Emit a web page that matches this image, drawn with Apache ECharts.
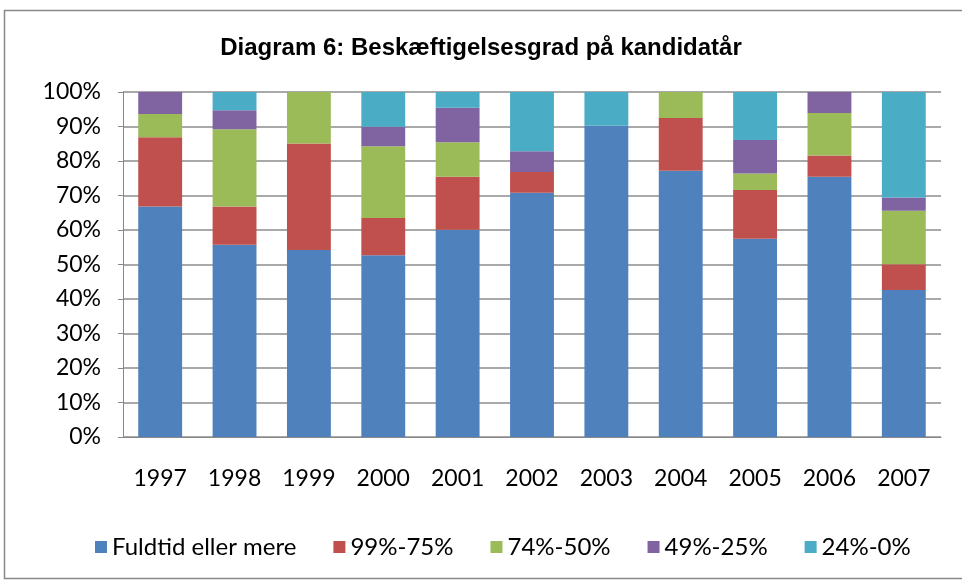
<!DOCTYPE html>
<html>
<head>
<meta charset="utf-8">
<script src="https://cdn.jsdelivr.net/npm/echarts@6/dist/echarts.min.js"></script>
<style>
  html, body { margin: 0; padding: 0; background: #fff; }
  #chart { width: 962px; height: 580px; }
</style>
</head>
<body>
<div id="chart"></div>
<script>
const years = ['1997', '1998', '1999', '2000', '2001', '2002', '2003', '2004', '2005', '2006', '2007']
const seriesNames = ['Fuldtid eller mere', '99%-75%', '74%-50%', '49%-25%', '24%-0%']
// andele i procent
const fuldtid = [66.8, 55.7, 54.2, 52.7, 60.1, 70.8, 90.2, 77.2, 57.5, 75.4, 42.6]
const pct99to75 = [20.1, 11.1, 30.9, 10.8, 15.3, 6.0, 0, 15.3, 14.1, 6.2, 7.5]
const pct74to50 = [6.7, 22.4, 14.9, 20.8, 10.0, 0, 0, 7.5, 4.8, 12.3, 15.5]
const pct49to25 = [6.4, 5.5, 0, 5.6, 10.0, 6.0, 0, 0, 9.7, 6.1, 3.8]
const pct24to0 = [0, 5.3, 0, 10.1, 4.6, 17.2, 9.8, 0, 13.9, 0, 30.6]
const colors = ['#4f81bd', '#c0504d', '#9bbb59', '#8064a2', '#4bacc6']

const labelFont = 'Lato, "Open Sans", sans-serif'
const chart = echarts.init(document.getElementById('chart'))

const seriesData = [fuldtid, pct99to75, pct74to50, pct49to25, pct24to0]

chart.setOption({
  animation: false,
  backgroundColor: '#fff',
  title: {
    text: 'Diagram 6: Beskæftigelsesgrad på kandidatår',
    left: 'center',
    top: 31,
    textStyle: {
      fontFamily: '"Liberation Sans Narrow", "Liberation Sans", Arial, sans-serif',
      fontWeight: 'bold',
      fontSize: 24,
      color: '#000',
    },
  },
  graphic: [{
    type: 'rect',
    shape: { x: 4.5, y: 10.5, width: 980, height: 568 },
    style: { fill: 'none', stroke: '#888', lineWidth: 1.5 },
    silent: true,
  }],
  legend: {
    bottom: 16,
    left: 90,
    itemWidth: 12,
    itemHeight: 12,
    itemGap: 37,
    icon: 'rect',
    textStyle: { fontFamily: labelFont, fontSize: 24, color: '#000' },
    data: seriesNames,
  },
  grid: { left: 123, right: 21, top: 92, bottom: 143 },
  xAxis: {
    type: 'category',
    data: years,
    axisLine: { lineStyle: { color: '#888' } },
    axisTick: { show: false },
    axisLabel: { fontFamily: labelFont, fontSize: 23, color: '#000', margin: 30 },
  },
  yAxis: {
    type: 'value',
    min: 0,
    max: 100,
    interval: 10,
    axisLine: { show: true, lineStyle: { color: '#888' } },
    axisTick: { show: true, length: 5, lineStyle: { color: '#888' } },
    axisLabel: { fontFamily: labelFont, fontSize: 23, color: '#000', margin: 22, formatter: '{value}%' },
    splitLine: { lineStyle: { color: '#8c8c8c', width: 1.5 } },
  },
  series: seriesNames.map((name, i) => ({
    name,
    type: 'bar',
    stack: 'total',
    barWidth: '59%',
    data: seriesData[i],
    itemStyle: { color: colors[i] },
  })),
})
</script>
</body>
</html>
